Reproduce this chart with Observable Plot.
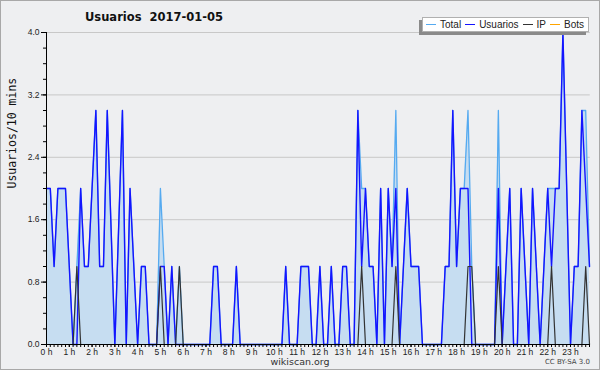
<!DOCTYPE html>
<html>
<head>
<meta charset="utf-8">
<script src="https://cdn.jsdelivr.net/npm/d3@7"></script>
<script src="https://cdn.jsdelivr.net/npm/@observablehq/plot@0.6"></script>
<style>
  html, body { margin: 0; padding: 0; background: #eeeff1; }
  #wrap { position: relative; width: 600px; height: 370px; background: #eeeff1; overflow: hidden; }
  #frame { position: absolute; left: 0; top: 0; width: 600px; height: 370px; box-sizing: border-box; border: 1px solid #a8a8a8; pointer-events: none; }
  #title { position: absolute; left: 85px; top: 10px; font: bold 11.5px "DejaVu Sans", sans-serif; line-height: 14px; color: #111; white-space: pre; }
  #legend { position: absolute; left: 422px; top: 17px; width: 167px; height: 15px; box-sizing: border-box; background: #fff; border: 1px solid #b0b0b0; box-shadow: -3px 3px 0 #8a8a8a; display: flex; align-items: center; font: 10px "Liberation Sans", Arial, sans-serif; color: #222; padding-left: 3px; white-space: nowrap; }
  #legend .sw { display: inline-block; width: 10px; height: 0; border-top: 1.5px solid; margin-right: 4px; }
  #legend .it { display: flex; align-items: center; margin-right: 4px; }
  #foot { position: absolute; left: 0; width: 600px; top: 356px; text-align: center; font: 9.5px "DejaVu Sans", sans-serif; color: #333; }
  #cc { position: absolute; right: 10px; top: 358px; font: 7px "DejaVu Sans", sans-serif; color: #444; }
</style>
</head>
<body>
<div id="wrap">
  <div id="chart"></div>
  <div id="title"></div>
  <div id="legend"></div>
  <div id="foot">wikiscan.org</div>
  <div id="cc">CC BY-SA 3.0</div>
  <div id="frame"></div>
</div>
<script>
const titleText = "Usuarios  2017-01-05";
const yLabel = "Usuarios/10 mins";
const seriesNames = ["Total", "Usuarios", "IP", "Bots"];
const seriesColors = ["#55aaf0", "#1414ff", "#333333", "#ffa500"];
const yTicks = [0, 0.8, 1.6, 2.4, 3.2, 4.0];
const hourLabels = ["0 h","1 h","2 h","3 h","4 h","5 h","6 h","7 h","8 h","9 h","10 h","11 h","12 h","13 h","14 h","15 h","16 h","17 h","18 h","19 h","20 h","21 h","22 h","23 h"];

// 10-minute slots, 144 per day
const total = [
  2,2,1,2,2,2,1,0,1,2,
  1,1,2,3,1,1,3,1.5,0,1.5,
  3,0,2,1,0,1,1,0,0,0,
  2,1,0,1,0,1,0,0,0,0,
  0,0,0,0,1,1,0,0,0,0,
  1,0,0,0,0,0,0,0,0,0,
  0,0,0,1,0,0,0,1,1,1,
  0,0,1,0,0,1,0,0,1,1,
  0,0,3,2,2,1,1,0,2,0,
  2,1,3,0,1,2,1,1,1,0,
  0,0,0,0,0,1,1,3,1,2,
  2,3,1,0,0,0,0,0,0,3,
  0,1,2,0,0,2,1,0,2,1,
  0,1,2,2,2,2,4,2,0,1,
  1,3,3,1
];
const usuarios = [
  2,2,1,2,2,2,1,0,0,2,
  1,1,2,3,1,1,3,1.5,0,1.5,
  3,0,2,1,0,1,1,0,0,0,
  1,1,0,1,0,0,0,0,0,0,
  0,0,0,0,1,1,0,0,0,0,
  1,0,0,0,0,0,0,0,0,0,
  0,0,0,1,0,0,0,1,1,1,
  0,0,1,0,0,1,0,0,1,1,
  0,0,3,1,2,1,1,0,2,0,
  2,1,2,0,1,2,1,1,1,0,
  0,0,0,0,0,1,1,3,1,2,
  2,2,0,0,0,0,0,0,0,2,
  0,1,2,0,0,2,1,0,2,1,
  0,1,2,1,2,2,4,2,0,1,
  1,3,2,1
];
const ip = [
  0,0,0,0,0,0,0,0,1,0,
  0,0,0,0,0,0,0,0,0,0,
  0,0,0,0,0,0,0,0,0,0,
  1,0,0,0,0,1,0,0,0,0,
  0,0,0,0,0,0,0,0,0,0,
  0,0,0,0,0,0,0,0,0,0,
  0,0,0,0,0,0,0,0,0,0,
  0,0,0,0,0,0,0,0,0,0,
  0,0,0,1,0,0,0,0,0,0,
  0,0,1,0,0,0,0,0,0,0,
  0,0,0,0,0,0,0,0,0,0,
  0,1,1,0,0,0,0,0,0,1,
  0,0,0,0,0,0,0,0,0,0,
  0,0,0,1,0,0,0,0,0,0,
  0,0,1,0
];
const bots = [
  0,0,0,0,0,0,0,0,0,0, 0,0,0,0,0,0,0,0,0,0,
  0,0,0,0,0,0,0,0,0,0, 0,0,0,0,0,0,0,0,0,0,
  0,0,0,0,0,0,0,0,0,0, 0,0,0,0,0,0,0,0,0,0,
  0,0,0,0,0,0,0,0,0,0, 0,0,0,0,0,0,0,0,0,0,
  0,0,0,0,0,0,0,0,0,0, 0,0,0,0,0,0,0,0,0,0,
  0,0,0,0,0,0,0,0,0,0, 0,0,0,0,0,0,0,0,0,0,
  0,0,0,0,0,0,0,0,0,0, 0,0,0,0,0,0,0,0,0,0,
  0,0,0,0
];

const data = total.map((t, i) => ({slot: i, total: t, usuarios: usuarios[i], ip: ip[i], bots: bots[i]}));
const slots = data.map(d => d.slot);
const hourSlots = hourLabels.map((_, h) => h * 6);
const minorY = d3.range(0, 21).map(k => k * 0.2);

document.getElementById("title").textContent = titleText;
const leg = document.getElementById("legend");
seriesNames.forEach((n, k) => {
  const it = document.createElement("span"); it.className = "it";
  const sw = document.createElement("span"); sw.className = "sw"; sw.style.borderTopColor = seriesColors[k];
  const tx = document.createElement("span"); tx.textContent = n;
  it.appendChild(sw); it.appendChild(tx); leg.appendChild(it);
});

const chart = Plot.plot({
  width: 600,
  height: 370,
  marginLeft: 46,
  marginRight: 11,
  marginTop: 32,
  marginBottom: 26,
  style: {background: "transparent", fontFamily: "Liberation Sans, Arial, sans-serif", fontSize: "8.5px", color: "#222"},
  x: {domain: [0, 143], axis: null, label: null},
  y: {domain: [0, 4], axis: null, label: null},
  marks: [
    Plot.ruleY(yTicks.slice(1), {stroke: "#c8c8c8", strokeWidth: 1, x1: 0, x2: 143.2}),
    Plot.areaY(data, {x: "slot", y: "total", fill: "#c6ddf1", curve: "linear"}),
    Plot.lineY(data, {x: "slot", y: "total", stroke: seriesColors[0], strokeWidth: 1.3}),
    Plot.lineY(data, {x: "slot", y: "usuarios", stroke: seriesColors[1], strokeWidth: 1.4}),
    Plot.lineY(data, {x: "slot", y: "ip", stroke: seriesColors[2], strokeWidth: 1.2}),
    Plot.lineY(data, {x: "slot", y: "bots", stroke: seriesColors[3], strokeWidth: 1}),
    Plot.axisY({ticks: minorY, tickSize: 3, text: null, stroke: "#000", label: null}),
    Plot.axisY({ticks: yTicks, tickSize: 5, tickPadding: 2, tickFormat: d => d.toFixed(1), stroke: "#000", label: null}),
    Plot.axisX({ticks: slots, tickSize: 3, text: null, stroke: "#000", label: null}),
    Plot.axisX({ticks: hourSlots, tickSize: 3, tickPadding: 1, tickFormat: d => hourLabels[d / 6], stroke: "#000", label: null}),
    Plot.ruleX([0], {stroke: "#000"}),
    Plot.ruleY([0], {stroke: "#000", x1: 0, x2: 143.2}),
    Plot.text([yLabel], {frameAnchor: "left", rotate: -90, dx: -34, fontFamily: "DejaVu Sans Mono", fontSize: 11.5, fill: "#111"})
  ]
});
document.getElementById("chart").appendChild(chart);
</script>
</body>
</html>
